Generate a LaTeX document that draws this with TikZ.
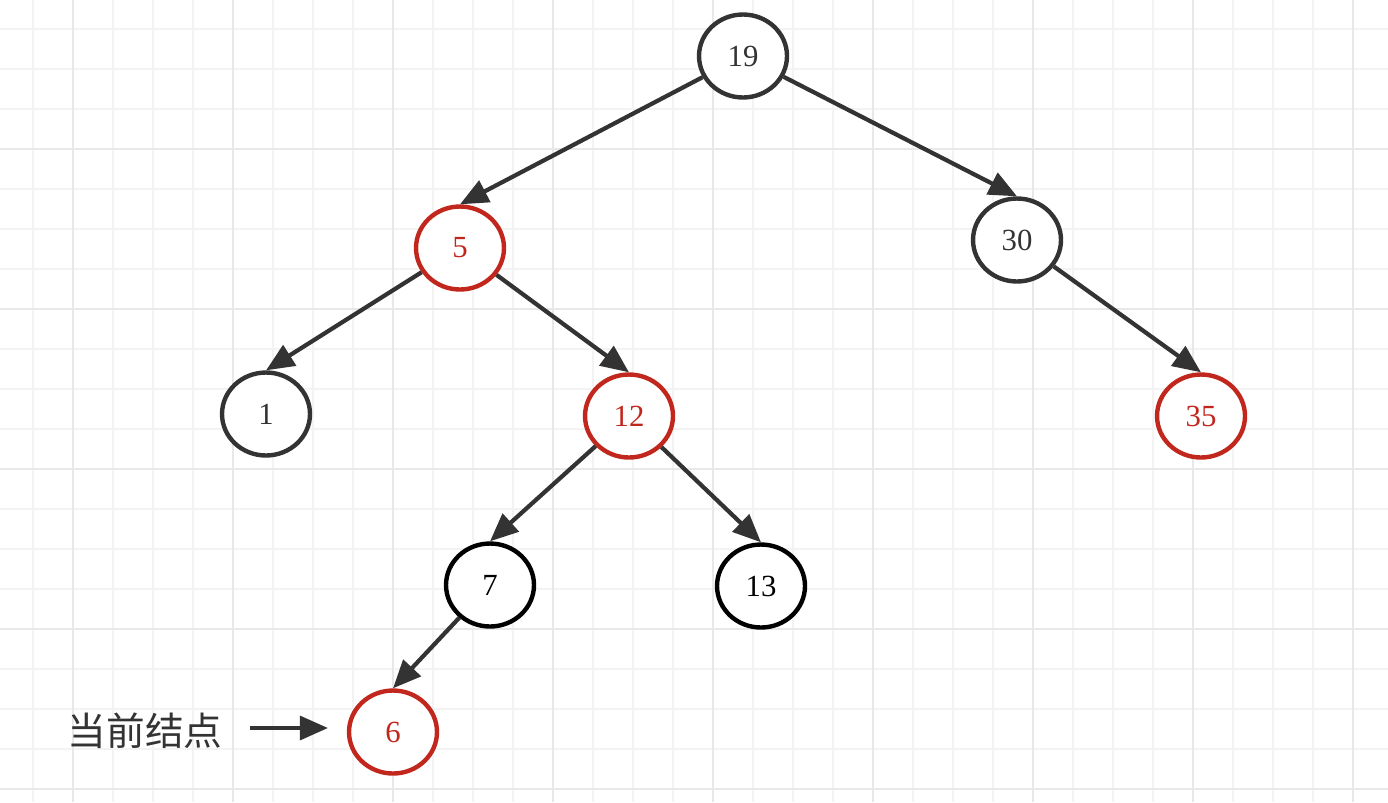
\documentclass[tikz,border=0pt]{standalone}
\usepackage{fontspec}
\setmainfont{Liberation Serif}
\newfontfamily\cjk{Noto Sans CJK SC}
\usetikzlibrary{arrows.meta,shapes.geometric}
\definecolor{edgegray}{HTML}{333333}
\definecolor{nodered}{HTML}{C1271D}
\definecolor{gridminor}{HTML}{F3F3F3}
\definecolor{gridmajor}{HTML}{E8E8E8}
\begin{document}
\begin{tikzpicture}[x=0.02cm,y=-0.02cm,
  every node/.style={font=\fontsize{17.5}{20}\selectfont},
  treenode/.style={ellipse,draw=edgegray,text=edgegray,line width=2.5pt,fill=white,minimum width=1.76cm,minimum height=1.66cm,inner sep=0pt},
  rednode/.style={treenode,draw=nodered,text=nodered},
  blacknode/.style={treenode,draw=black,text=black},
  link/.style={-{Triangle[length=16pt,width=13.5pt]},line width=2.4pt,draw=edgegray}]
\useasboundingbox (0,0) rectangle (1388,802);
\fill[white] (0,0) rectangle (1388,802);
% grid
\foreach \gx in {33,73,...,1388} \draw[gridminor,line width=1.1pt] (\gx,0)--(\gx,802);
\foreach \gy in {29,69,...,802} \draw[gridminor,line width=1.1pt] (0,\gy)--(1388,\gy);
\foreach \gx in {73,233,...,1388} \draw[gridmajor,line width=1.4pt] (\gx,0)--(\gx,802);
\foreach \gy in {149,309,...,802} \draw[gridmajor,line width=1.4pt] (0,\gy)--(1388,\gy);
% tree
\node[treenode] (n19) at (743,56) {19};
\node[rednode] (n5) at (460,248) {5};
\node[treenode] (n30) at (1017,240) {30};
\node[treenode] (n1) at (266,414) {1};
\node[rednode] (n12) at (629,416) {12};
\node[rednode] (n35) at (1201,416) {35};
\node[blacknode] (n7) at (490,585) {7};
\node[blacknode] (n13) at (761,586) {13};
\node[rednode] (n6) at (393,732) {6};
\draw[link] (n19)--(n5.north);
\draw[link] (n19)--(n30.north);
\draw[link] (n5)--(n1.north);
\draw[link] (n5)--(n12.north);
\draw[link] (n30)--(n35.north);
\draw[link] (n12)--(n7.north);
\draw[link] (n12)--(n13.north);
\draw[link] (n7)--(n6.north);
% current node marker
\node[text=edgegray,font=\cjk\fontsize{22}{25}\selectfont] (cur) at (145,731) {当前结点};
\coordinate (curtip) at (328,728);
\draw[link] (250,728)--(curtip);
\end{tikzpicture}
\end{document}
